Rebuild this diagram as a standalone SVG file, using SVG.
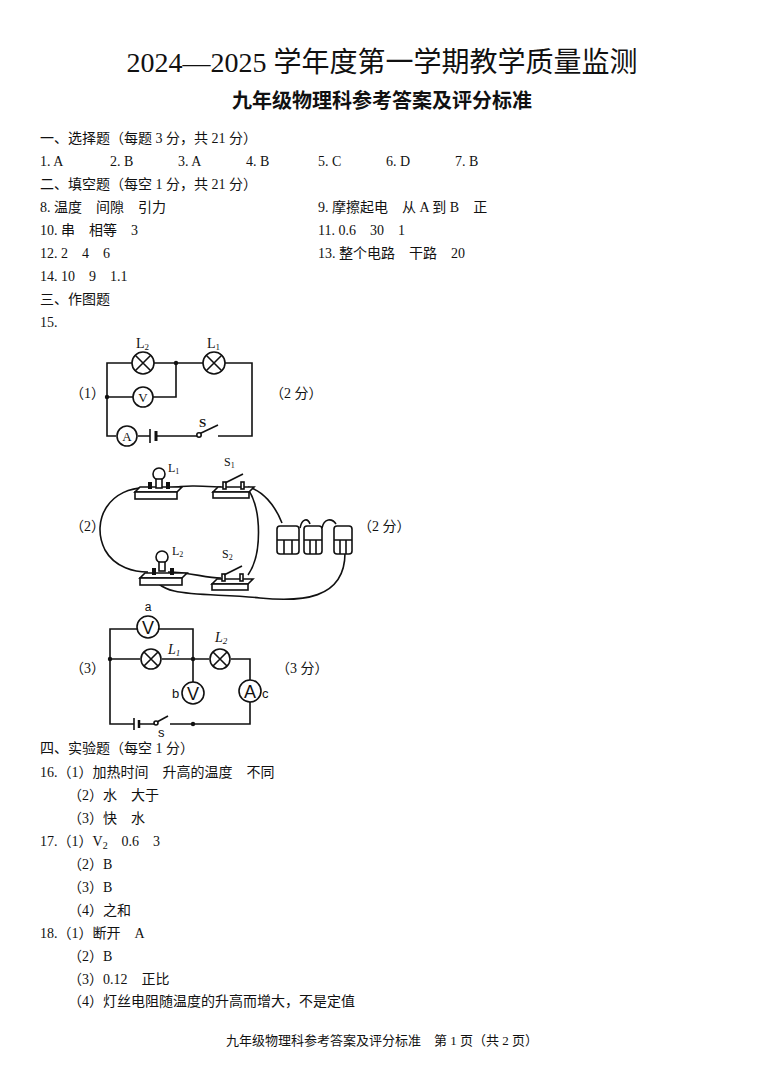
<svg xmlns="http://www.w3.org/2000/svg" width="765" height="1074" viewBox="0 0 765 1074">
<style>
text{font-family:"Liberation Serif","Noto Sans CJK SC",serif;fill:#111}
.t{font-size:14px}
.w{fill:none;stroke:#111;stroke-width:1.6}
.c{fill:#fff;stroke:#111;stroke-width:1.6}
.s{font-family:"Liberation Sans","Noto Sans CJK SC",sans-serif}
</style>
<rect width="765" height="1074" fill="#fff"/>
<text x="382" y="72" font-size="28" text-anchor="middle">2024—2025 学年度第一学期教学质量监测</text>
<text x="382" y="108" font-size="20" font-weight="bold" text-anchor="middle">九年级物理科参考答案及评分标准</text>
<g class="t">
<text x="40" y="143">一、选择题（每题 3 分，共 21 分）</text>
<text x="40" y="166">1. A</text><text x="110" y="166">2. B</text><text x="178" y="166">3. A</text><text x="246" y="166">4. B</text><text x="318" y="166">5. C</text><text x="386" y="166">6. D</text><text x="455" y="166">7. B</text>
<text x="40" y="189">二、填空题（每空 1 分，共 21 分）</text>
<text x="40" y="212">8. 温度　间隙　引力</text><text x="318" y="212">9. 摩擦起电　从 A 到 B　正</text>
<text x="40" y="235">10. 串　相等　3</text><text x="318" y="235">11. 0.6　30　1</text>
<text x="40" y="258">12. 2　4　6</text><text x="318" y="258">13. 整个电路　干路　20</text>
<text x="40" y="281">14. 10　9　1.1</text>
<text x="40" y="304">三、作图题</text>
<text x="40" y="327">15.</text>
<text x="70" y="398">（1）</text><text x="270" y="398">（2 分）</text>
<text x="70" y="531">（2）</text><text x="358" y="531">（2 分）</text>
<text x="70" y="673">（3）</text><text x="276" y="673">（3 分）</text>
<text x="40" y="753">四、实验题（每空 1 分）</text>
<text x="40" y="777">16.（1）加热时间　升高的温度　不同</text>
<text x="68" y="800">（2）水　大于</text>
<text x="68" y="823">（3）快　水</text>
<text x="40" y="846">17.（1）V<tspan font-size="10" dy="3">2</tspan><tspan dy="-3">　0.6　3</tspan></text>
<text x="68" y="869">（2）B</text>
<text x="68" y="892">（3）B</text>
<text x="68" y="915">（4）之和</text>
<text x="40" y="938">18.（1）断开　A</text>
<text x="68" y="961">（2）B</text>
<text x="68" y="984">（3）0.12　正比</text>
<text x="68" y="1006">（4）灯丝电阻随温度的升高而增大，不是定值</text>
</g>
<text x="382" y="1045" font-size="13" text-anchor="middle">九年级物理科参考答案及评分标准　第 1 页（共 2 页）</text>

<g id="circuit1">
<g id="c1-wires" class="w">
<path d="M132 363H107V436H116M138 436H150M157 436H197M218 436H252V363H225M203 363H154M176 363V397H153M133 397H107"/>
<path d="M150 429V443" stroke-width="1.6"/><path d="M156 431V441" stroke-width="3"/>
<path d="M199 434L218 425"/>
</g>
<circle cx="199" cy="435" r="2.2" class="c"/>
<circle cx="107" cy="397" r="2.2" fill="#111"/><circle cx="176" cy="363" r="2.2" fill="#111"/>
<g id="c1-L2"><circle cx="143" cy="363" r="11" class="c"/><path class="w" d="M135 355L151 371M151 355L135 371"/><text x="136" y="348" font-size="14">L<tspan font-size="9" dy="2">2</tspan></text></g>
<g id="c1-L1"><circle cx="214" cy="363" r="11" class="c"/><path class="w" d="M206 355L222 371M222 355L206 371"/><text x="207" y="348" font-size="14">L<tspan font-size="9" dy="2">1</tspan></text></g>
<g id="c1-V"><circle cx="143" cy="397" r="10" class="c"/><text x="143" y="402" font-size="13" text-anchor="middle">V</text></g>
<g id="c1-A"><circle cx="127" cy="436" r="10" class="c"/><text x="127" y="441" font-size="13" text-anchor="middle">A</text></g>
<text x="199" y="427" font-size="13" font-weight="bold">S</text>
</g>

<g id="circuit2">
<g id="c2-wires" class="w" stroke-width="1.3">
<path d="M148 488C110 486 90 520 105 550C115 568 135 572 148 572"/>
<path d="M168 488C190 485 200 486 221 487"/>
<path d="M248 487C262 490 275 505 282 523"/>
<path d="M248 489C262 510 262 555 248 575"/>
<path d="M168 572C190 572 205 578 221 578"/>
<path d="M153 574C158 600 210 592 260 598C300 602 345 600 345 553"/>
<path d="M300 528C302 518 308 518 310 524M322 528C324 518 332 518 336 524"/>
</g>
<g id="c2-L1">
<path d="M135 492h42l5-5H140z" class="c"/><rect x="135" y="492" width="42" height="7" class="c"/>
<rect x="148" y="482" width="4" height="7" fill="#111"/><rect x="166" y="482" width="4" height="7" fill="#111"/>
<circle cx="159" cy="474" r="6" class="c"/><rect x="156" y="479" width="6" height="9" class="c"/>
<text x="168" y="472" font-size="12">L<tspan font-size="8" dy="2">1</tspan></text>
</g>
<g id="c2-S1">
<path d="M213 492h36l5-5H218z" class="c"/><rect x="213" y="492" width="36" height="6" class="c"/>
<rect x="223" y="482" width="3" height="7" class="c"/><rect x="241" y="482" width="3" height="7" class="c"/>
<path d="M225 483L243 474" class="w" stroke-width="2.5"/>
<text x="224" y="466" font-size="12">S<tspan font-size="8" dy="2">1</tspan></text>
</g>
<g id="c2-L2">
<path d="M140 578h42l5-5H145z" class="c"/><rect x="140" y="578" width="42" height="7" class="c"/>
<rect x="152" y="568" width="4" height="7" fill="#111"/><rect x="170" y="568" width="4" height="7" fill="#111"/>
<circle cx="162" cy="557" r="6" class="c"/><rect x="159" y="562" width="6" height="9" class="c"/>
<text x="172" y="555" font-size="12">L<tspan font-size="8" dy="2">2</tspan></text>
</g>
<g id="c2-S2">
<path d="M212 584h36l5-5H217z" class="c"/><rect x="212" y="584" width="36" height="6" class="c"/>
<rect x="222" y="574" width="3" height="7" class="c"/><rect x="240" y="574" width="3" height="7" class="c"/>
<path d="M224 575L242 566" class="w" stroke-width="2.5"/>
<text x="222" y="558" font-size="12">S<tspan font-size="8" dy="2">2</tspan></text>
</g>
<g id="c2-batteries" class="c" stroke-width="1.3">
<rect x="277" y="526" width="22" height="28" rx="3"/><path d="M284 540V554M292 540V554M277 540H299" fill="none"/>
<rect x="304" y="526" width="18" height="28" rx="3"/><path d="M310 540V554M316 540V554M304 540H322" fill="none"/>
<rect x="334" y="526" width="18" height="28" rx="3"/><path d="M340 540V554M346 540V554M334 540H352" fill="none"/>
</g>
</g>

<g id="circuit3">
<g id="c3-wires" class="w">
<path d="M137 629H110V724H134M140 724H155M170 724H250V702M250 680V659H231M209 659H162M140 659H110M159 629H193V704M193 682V659"/>
<path d="M134 718V730"/><path d="M139 720V728" stroke-width="2.5"/>
<path d="M157 722L168 716"/>
</g>
<circle cx="156" cy="723" r="2" class="c"/>
<circle cx="110" cy="659" r="2.2" fill="#111"/><circle cx="193" cy="659" r="2.2" fill="#111"/><circle cx="193" cy="724" r="2.2" fill="#111"/>
<g id="c3-Va"><circle cx="148" cy="627" r="11" class="c"/><text x="148" y="634" font-size="18" class="s" text-anchor="middle">V</text><text x="148" y="611" font-size="12" class="s" text-anchor="middle">a</text></g>
<g id="c3-L1"><circle cx="151" cy="659" r="10" class="c"/><path class="w" d="M144 652L158 666M158 652L144 666"/><text x="168" y="654" font-size="14" font-style="italic">L<tspan font-size="9" dy="2">1</tspan></text></g>
<g id="c3-L2"><circle cx="220" cy="659" r="10" class="c"/><path class="w" d="M213 652L227 666M227 652L213 666"/><text x="215" y="642" font-size="14" font-style="italic">L<tspan font-size="9" dy="2">2</tspan></text></g>
<g id="c3-Vb"><circle cx="193" cy="693" r="11" class="c"/><text x="193" y="700" font-size="18" class="s" text-anchor="middle">V</text><text x="172" y="698" font-size="13" class="s">b</text></g>
<g id="c3-A"><circle cx="250" cy="691" r="11" class="c"/><text x="250" y="698" font-size="18" class="s" text-anchor="middle">A</text><text x="262" y="698" font-size="13" class="s">c</text></g>
<text x="158" y="737" font-size="13" class="s">s</text>
</g>
</svg>
